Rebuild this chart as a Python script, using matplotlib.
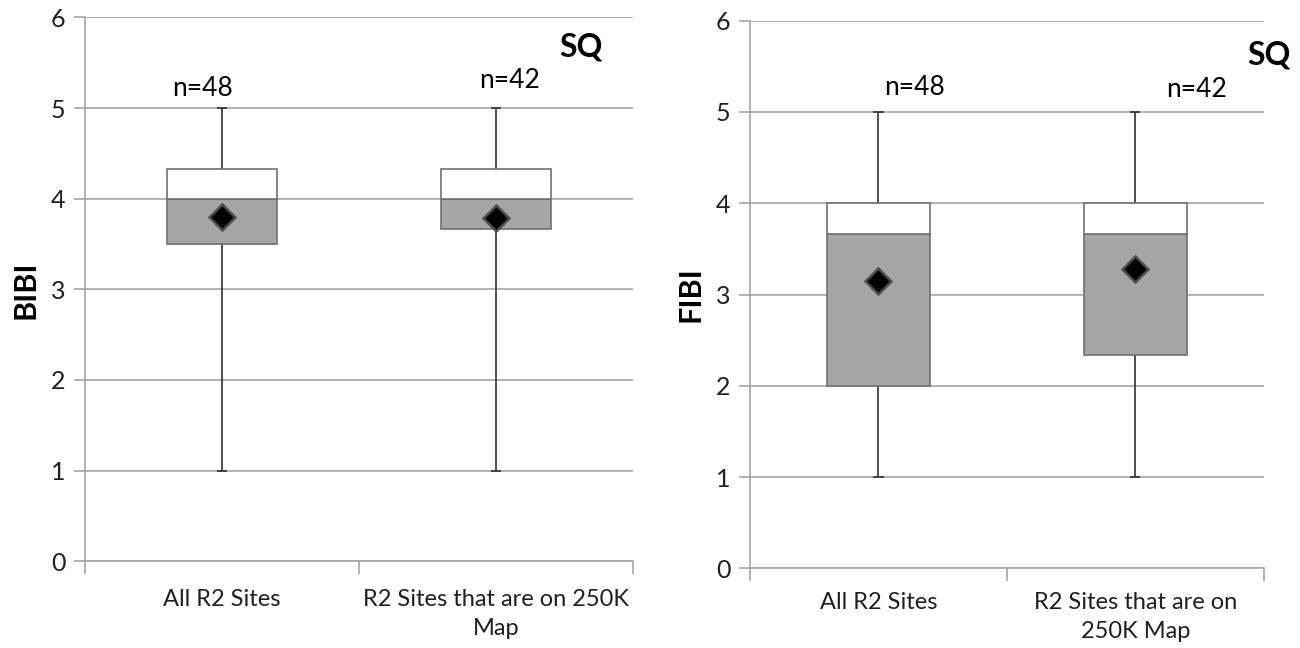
import matplotlib.pyplot as plt
from matplotlib.ticker import FixedLocator

plt.rcParams["font.family"] = ["Lato", "DejaVu Sans"]

# box summaries for the two indices (min, Q1, median, Q3, max, mean)
bibi_labels = ["All R2 Sites", "R2 Sites that are on 250K\nMap"]
bibi_min = [1.0, 1.0]
bibi_q1 = [3.5, 3.667]
bibi_median = [4.0, 4.0]
bibi_q3 = [4.333, 4.333]
bibi_max = [5.0, 5.0]
bibi_mean = [3.80, 3.79]
bibi_n = ["n=48", "n=42"]

fibi_labels = ["All R2 Sites", "R2 Sites that are on\n250K Map"]
fibi_min = [1.0, 1.0]
fibi_q1 = [2.0, 2.333]
fibi_median = [3.667, 3.667]
fibi_q3 = [4.0, 4.0]
fibi_max = [5.0, 5.0]
fibi_mean = [3.15, 3.28]
fibi_n = ["n=48", "n=42"]

GRID = "#a6a6a6"
EDGE = "#707070"
FILL = "#a6a6a6"


def draw_panel(ax, labels, vmin, q1, med, q3, vmax, mean, ntext, n_pos, ylabel, sq_pos, pad):
    xs = [0.5, 1.5]
    width = 0.4
    ax.set_xlim(0, 2)
    ax.set_ylim(0, 6)
    ax.set_yticks(range(0, 7))
    ax.yaxis.grid(True, color=GRID, linewidth=1.2)
    ax.set_axisbelow(True)
    for side in ("top", "right"):
        ax.spines[side].set_visible(False)
    for side in ("left", "bottom"):
        ax.spines[side].set_color(GRID)
        ax.spines[side].set_linewidth(1.2)

    for i, x in enumerate(xs):
        ax.vlines(x, vmin[i], q1[i], color="#303030", linewidth=1.2, zorder=2)
        ax.vlines(x, q3[i], vmax[i], color="#303030", linewidth=1.2, zorder=2)
        ax.hlines([vmin[i], vmax[i]], x - 0.02, x + 0.02, color="#303030", linewidth=1.2, zorder=2)
    ax.bar(xs, [m - a for m, a in zip(med, q1)], bottom=q1, width=width,
           color=FILL, edgecolor=EDGE, linewidth=1.2, zorder=3)
    ax.bar(xs, [b - m for b, m in zip(q3, med)], bottom=med, width=width,
           color="white", edgecolor=EDGE, linewidth=1.2, zorder=3)
    ax.plot(xs, mean, linestyle="none", marker="D", markersize=13,
            markerfacecolor="black", markeredgecolor="#505050", markeredgewidth=1.8, zorder=4)

    for (nx, ny), t in zip(n_pos, ntext):
        ax.text(nx, ny, t, ha="center", va="center", fontsize=19, color="black")
    ax.text(sq_pos[0], sq_pos[1], "SQ", ha="center", va="center", fontsize=23,
            fontweight="bold", color="black", clip_on=False)

    ax.xaxis.set_major_locator(FixedLocator(xs))
    ax.set_xticklabels(labels, fontsize=17, color="#202020", linespacing=1.5)
    ax.xaxis.set_minor_locator(FixedLocator([0, 1, 2]))
    ax.tick_params(axis="x", which="major", length=0, pad=pad)
    ax.tick_params(axis="x", which="minor", length=9, width=1.2, color=GRID, direction="out")
    ax.tick_params(axis="y", length=8, width=1.2, color=GRID, labelsize=18, pad=6, labelcolor="#202020")
    ax.set_ylabel(ylabel, fontsize=22, fontweight="bold", labelpad=8)


fig = plt.figure(figsize=(13, 6.48), dpi=100)
ax1 = fig.add_axes([0.0654, 0.134, 0.4215, 0.839])
ax2 = fig.add_axes([0.577, 0.123, 0.395, 0.845])

draw_panel(ax1, bibi_labels, bibi_min, bibi_q1, bibi_median, bibi_q3, bibi_max, bibi_mean,
           bibi_n, [(0.43, 5.22), (1.55, 5.30)], "BIBI", (1.81, 5.67), 20)
draw_panel(ax2, fibi_labels, fibi_min, fibi_q1, fibi_median, fibi_q3, fibi_max, fibi_mean,
           fibi_n, [(0.64, 5.27), (1.74, 5.25)], "FIBI", (2.02, 5.62), 17)

fig.savefig("out.png", dpi=100)
